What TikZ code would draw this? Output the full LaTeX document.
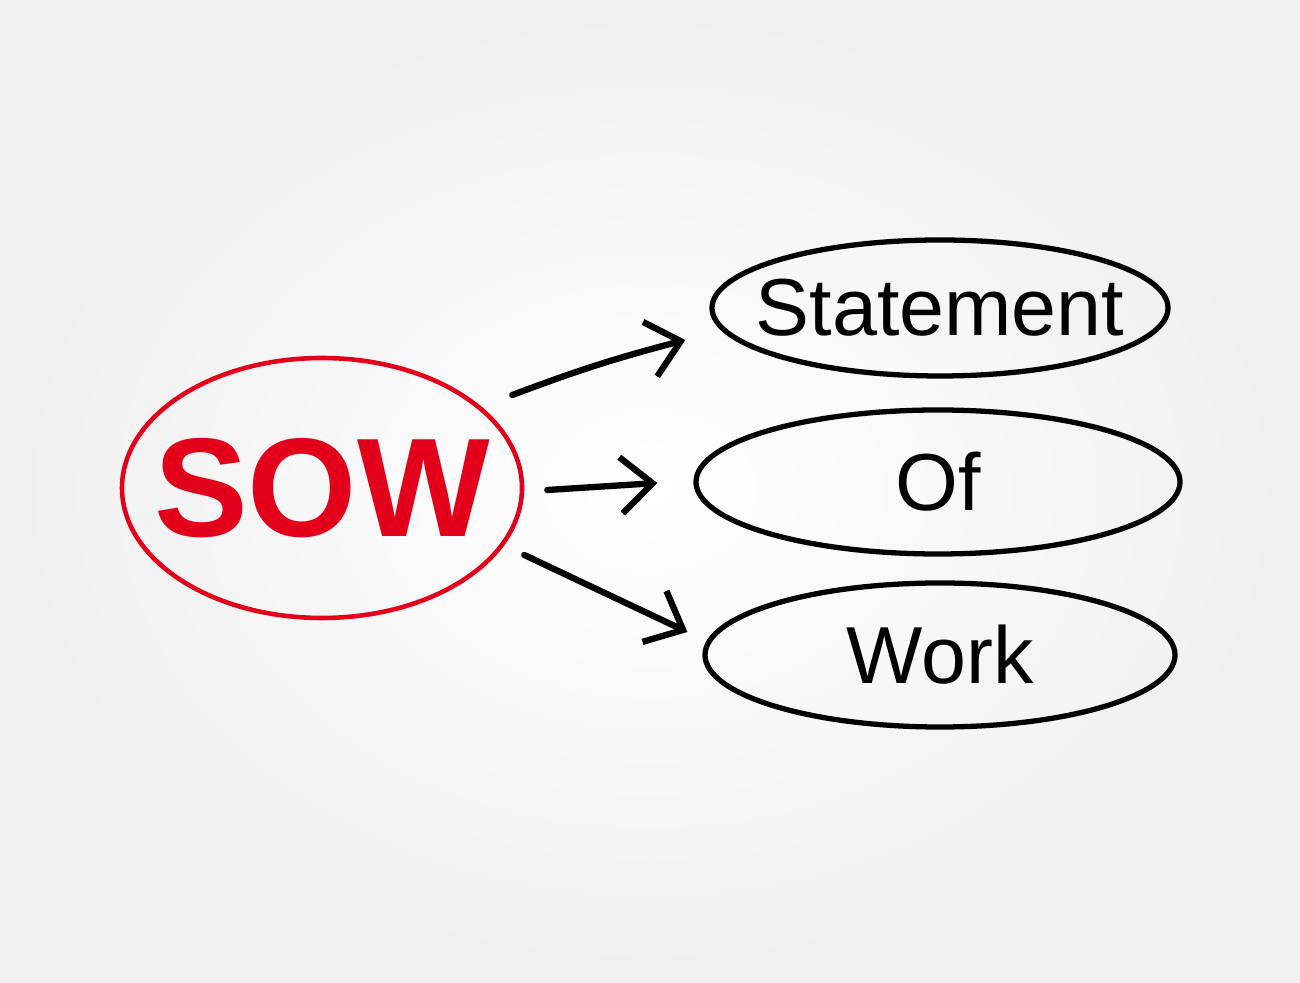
\documentclass[tikz,border=0pt]{standalone}
\usepackage{fontspec}
\setmainfont{Liberation Sans}
\usetikzlibrary{shapes.geometric,arrows.meta,calc}
\definecolor{sowred}{RGB}{226,0,26}

\begin{document}
\begin{tikzpicture}[
	bubble/.style={ellipse, draw, line width=1.5pt, inner xsep=-1cm, inner ysep=0pt},
	word/.style={font=\fontsize{23}{27}\selectfont},
	arr/.style={line width=1.8pt, line cap=round, -{Straight Barb[length=9pt, width=16pt, line width=1.8pt]}}]
	\shade[inner color=white, outer color=black!6] (0,0) rectangle (13,9.82);
	\useasboundingbox (0,0) rectangle (13,9.82);
	\node[bubble, draw=sowred, line width=1.3pt, minimum width=4cm, minimum height=2.6cm,
		text=sowred, font=\fontsize{40}{46}\selectfont\bfseries] (sow) at (3.22,4.94) {SOW};
	\node[bubble, minimum width=4.56cm, minimum height=1.36cm, word] (statement) at (9.40,6.74) {Statement};
	\node[bubble, minimum width=4.84cm, minimum height=1.44cm, word] (of) at (9.38,5.00) {Of};
	\node[bubble, minimum width=4.70cm, minimum height=1.44cm, word] (work) at (9.40,3.27) {Work};
	\draw[arr] ($(sow.east)+(-0.12,0.93)$) to[bend left=3] ($(statement.west)+(-0.24,-0.32)$);
	\draw[arr] ($(sow.east)+(0.23,-0.02)$) -- ($(of.west)+(-0.36,-0.01)$);
	\draw[arr] ($(sow.east)+(0,-0.67)$) -- ($(work.west)+(-0.15,0.23)$);
\end{tikzpicture}
\end{document}
